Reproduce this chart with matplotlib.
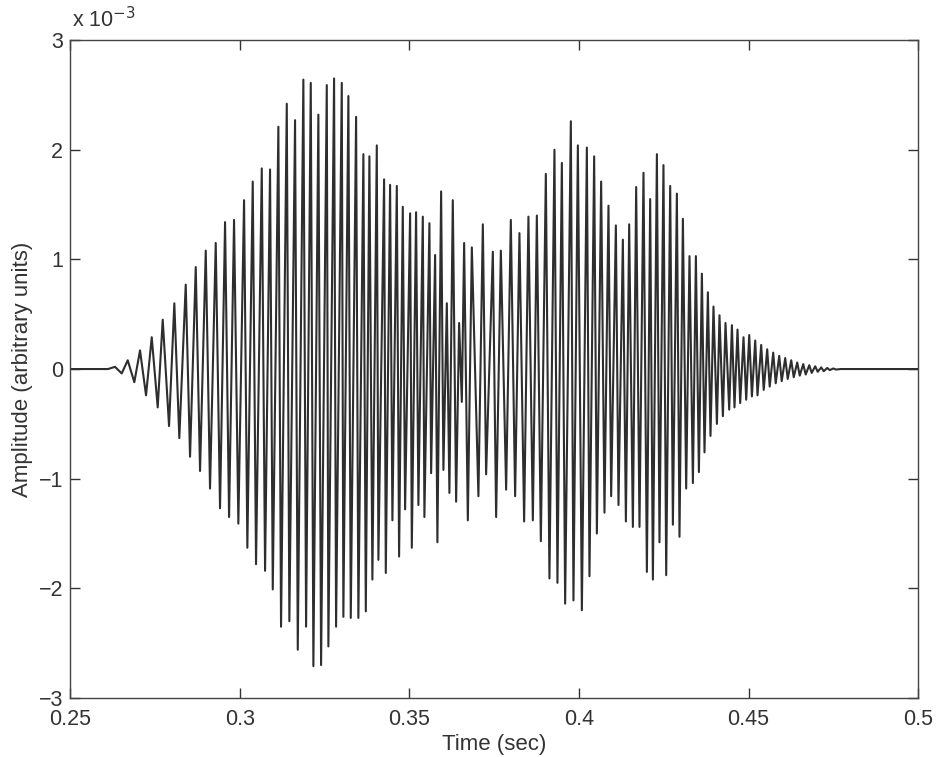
import numpy as np
import matplotlib.pyplot as plt

# extremum times (s) of the waveform
t_ext = [0.25, 0.26120,
         0.26327, 0.26524, 0.26701, 0.26896, 0.27064, 0.27241, 0.27409, 0.27585,
         0.27733, 0.27919, 0.28075, 0.28222, 0.28411, 0.28538, 0.28706, 0.28833,
         0.29001, 0.29127, 0.29295, 0.29422, 0.29570, 0.29688, 0.29835, 0.29962,
         0.30130, 0.30227, 0.30386, 0.30483, 0.30652, 0.30749, 0.30896, 0.30976,
         0.31141, 0.31220, 0.31389, 0.31465, 0.31633, 0.31713, 0.31878, 0.31958,
         0.32096, 0.32173, 0.32320, 0.32400, 0.32568, 0.32615, 0.32783, 0.32842,
         0.33010, 0.33057, 0.33205, 0.33275, 0.33432, 0.33499, 0.33647, 0.33718,
         0.33824, 0.33912, 0.34042, 0.34089, 0.34257, 0.34307, 0.34434, 0.34502,
         0.34632, 0.34699, 0.34808, 0.34876, 0.35024, 0.35074, 0.35200, 0.35268,
         0.35398, 0.35445, 0.35593, 0.35643, 0.35761, 0.35828, 0.35938, 0.36005,
         0.36106, 0.36182, 0.36282, 0.36380, 0.36468, 0.36548, 0.36616, 0.36725,
         0.36843, 0.37037, 0.37167, 0.37264, 0.37462, 0.37559, 0.37698, 0.37854,
         0.37992, 0.38119, 0.38246, 0.38384, 0.38511, 0.38641, 0.38759, 0.38877,
         0.39024, 0.39130, 0.39278, 0.39366, 0.39496, 0.39593, 0.39761, 0.39838,
         0.39968, 0.40086, 0.40233, 0.40310, 0.40448, 0.40528, 0.40654, 0.40752,
         0.40870, 0.40949, 0.41088, 0.41165, 0.41294, 0.41383, 0.41480, 0.41589,
         0.41686, 0.41784, 0.41902, 0.42002, 0.42099, 0.42179, 0.42297, 0.42373,
         0.42491, 0.42571, 0.42689, 0.42768, 0.42886, 0.42963, 0.43063, 0.43160,
         0.43258, 0.43358, 0.43446, 0.43535, 0.43623, 0.43700, 0.43800, 0.43877,
         0.43965, 0.44066, 0.44142, 0.44242, 0.44319, 0.44428, 0.44508, 0.44584,
         0.44673, 0.44752, 0.44850, 0.44929, 0.45018, 0.45097, 0.45195, 0.45262,
         0.45371, 0.45445, 0.45548, 0.45622, 0.45725, 0.45799, 0.45902, 0.45976,
         0.46079, 0.46153, 0.46256, 0.46330, 0.46433, 0.46507, 0.46610, 0.46683,
         0.46787, 0.46860, 0.46963, 0.47037, 0.47140, 0.47214, 0.47317, 0.47391,
         0.47494, 0.47583,
         0.47700, 0.5]

# amplitude at each extremum (x 10^-3)
a_ext = [0.0, 0.0,
         0.02, -0.04, 0.08, -0.12, 0.17, -0.24, 0.29, -0.35,
         0.45, -0.52, 0.60, -0.63, 0.77, -0.80, 0.93, -0.93,
         1.08, -1.09, 1.15, -1.27, 1.34, -1.35, 1.36, -1.41,
         1.54, -1.63, 1.71, -1.78, 1.83, -1.84, 1.82, -2.01,
         2.21, -2.35, 2.42, -2.30, 2.27, -2.56, 2.64, -2.35,
         2.61, -2.71, 2.32, -2.70, 2.59, -2.53, 2.65, -2.35,
         2.61, -2.26, 2.49, -2.27, 2.30, -2.27, 1.96, -2.21,
         1.94, -1.92, 2.04, -1.74, 1.73, -1.86, 1.68, -1.38,
         1.67, -1.71, 1.48, -1.28, 1.42, -1.63, 1.43, -1.24,
         1.39, -1.35, 1.33, -0.95, 1.04, -1.58, 1.62, -0.92,
         0.60, -1.13, 1.54, -1.21, 0.42, -0.30, 1.15, -1.38,
         1.11, -1.16, 1.32, -0.96, 1.07, -1.35, 1.08, -1.10,
         1.36, -1.16, 1.24, -1.39, 1.39, -1.38, 1.40, -1.57,
         1.78, -1.91, 2.00, -1.95, 1.88, -2.14, 2.26, -2.11,
         2.04, -2.20, 2.02, -1.89, 1.94, -1.50, 1.71, -1.31,
         1.49, -1.16, 1.31, -1.24, 1.18, -1.39, 1.32, -1.44,
         1.66, -1.44, 1.79, -1.85, 1.55, -1.92, 1.96, -1.58,
         1.86, -1.88, 1.67, -1.42, 1.60, -1.53, 1.37, -1.09,
         1.03, -1.04, 1.03, -0.94, 0.87, -0.76, 0.70, -0.61,
         0.57, -0.50, 0.49, -0.43, 0.42, -0.37, 0.40, -0.35,
         0.36, -0.31, 0.29, -0.28, 0.31, -0.25, 0.26, -0.24,
         0.22, -0.19, 0.18, -0.16, 0.15, -0.13, 0.12, -0.11,
         0.10, -0.09, 0.08, -0.075, 0.06, -0.06, 0.045, -0.05,
         0.035, -0.035, 0.025, -0.025, 0.015, -0.02, 0.01, -0.01,
         0.005, -0.005,
         0.0, 0.0]

x_ticks = [0.25, 0.3, 0.35, 0.4, 0.45, 0.5]
x_labels = ['0.25', '0.3', '0.35', '0.4', '0.45', '0.5']
y_ticks = [-3, -2, -1, 0, 1, 2, 3]
y_labels = ['\u22123', '\u22122', '\u22121', '0', '1', '2', '3']

plt.rcParams['font.family'] = ['Liberation Sans', 'DejaVu Sans']

fig = plt.figure(figsize=(9.37, 7.57), dpi=100)
ax = fig.add_axes([0.0747, 0.078, 0.9053, 0.869])

ax.plot(np.array(t_ext), np.array(a_ext) * 1e-3, color='#2e2e2e', lw=1.5)

ax.set_xlim(0.25, 0.5)
ax.set_ylim(-3e-3, 3e-3)
ax.set_xticks(x_ticks)
ax.set_xticklabels(x_labels)
ax.set_yticks([v * 1e-3 for v in y_ticks])
ax.set_yticklabels(y_labels)
ax.tick_params(direction='in', length=7, width=1, top=True, right=True,
               labelsize=15.5, colors='#333333')
ax.tick_params(axis='x', pad=8)
ax.tick_params(axis='y', pad=5)
for s in ax.spines.values():
    s.set_color('#444444')
    s.set_linewidth(1.0)

ax.set_xlabel('Time (sec)', fontsize=16, color='#333333', labelpad=3)
ax.set_ylabel('Amplitude (arbitrary units)', fontsize=16, color='#333333', labelpad=4)
ax.text(0.002, 1.012, 'x 10$^{-3}$', transform=ax.transAxes, fontsize=15.5,
        color='#333333', ha='left', va='bottom')

fig.savefig('out.png', dpi=100)
